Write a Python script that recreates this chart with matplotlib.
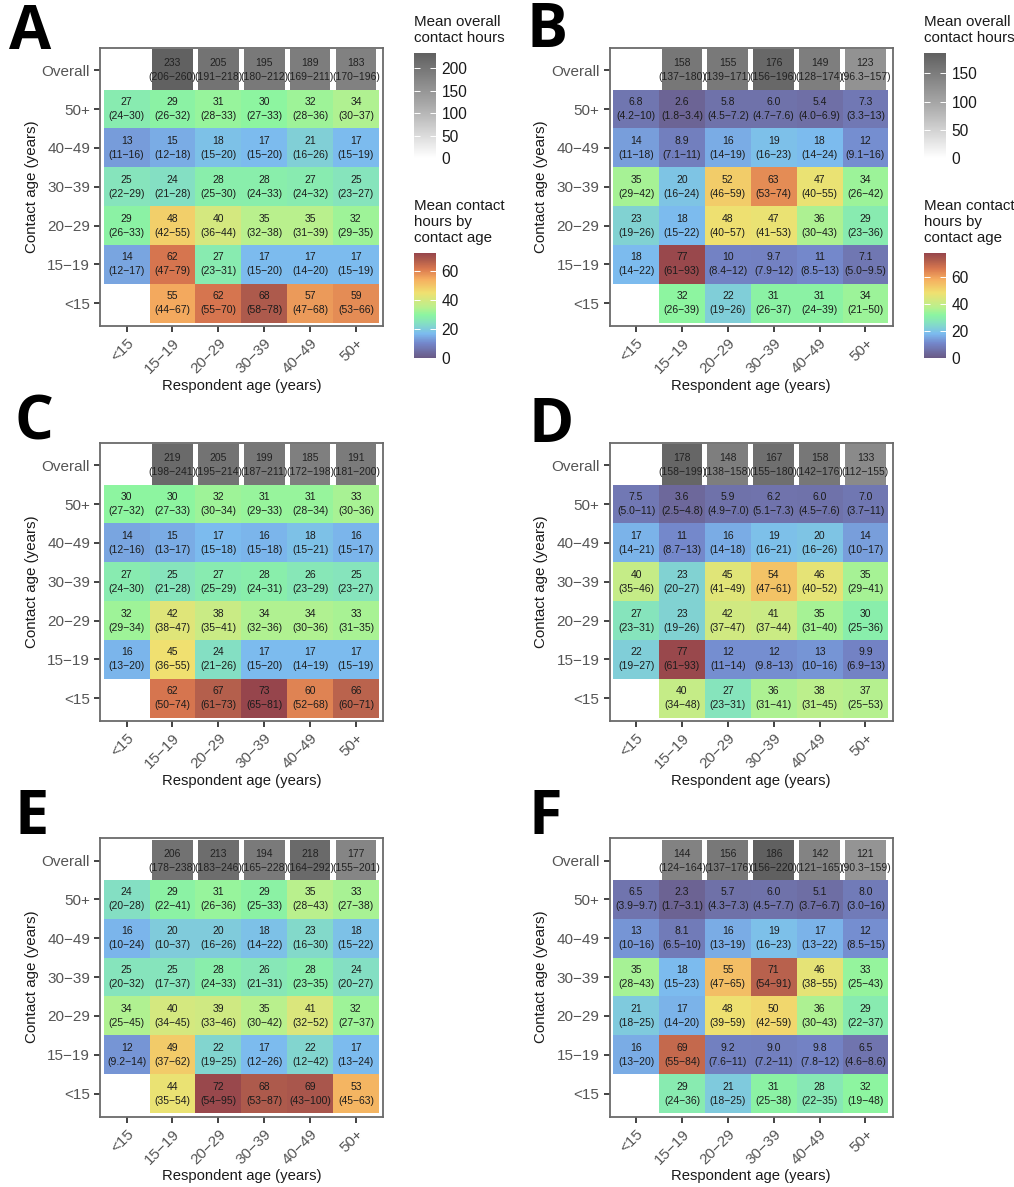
import matplotlib
matplotlib.use("Agg")
import matplotlib.pyplot as plt
import numpy as np
from matplotlib.colors import LinearSegmentedColormap, Normalize
from matplotlib.cm import ScalarMappable

plt.rcParams['font.family'] = ['Liberation Sans', 'DejaVu Sans']

W, H = 1014, 1187
age_groups = ['<15', '15−19', '20−29', '30−39', '40−49', '50+']
row_labels = ['<15', '15−19', '20−29', '30−39', '40−49', '50+', 'Overall']

# rows are listed from <15 (bottom) up to 50+
A_overall = [233, 205, 195, 189, 183]
A_overall_ci = ['206−260', '191−218', '180−212', '169−211', '170−196']
A_means = [[None, 55, 62, 68, 57, 59],
           [14, 62, 27, 17, 17, 17],
           [29, 48, 40, 35, 35, 32],
           [25, 24, 28, 28, 27, 25],
           [13, 15, 18, 17, 21, 17],
           [27, 29, 31, 30, 32, 34]]
A_ci = [[None, '44−67', '55−70', '58−78', '47−68', '53−66'],
        ['12−17', '47−79', '23−31', '15−20', '14−20', '15−19'],
        ['26−33', '42−55', '36−44', '32−38', '31−39', '29−35'],
        ['22−29', '21−28', '25−30', '24−33', '24−32', '23−27'],
        ['11−16', '12−18', '15−20', '15−20', '16−26', '15−19'],
        ['24−30', '26−32', '28−33', '27−33', '28−36', '30−37']]

B_overall = [158, 155, 176, 149, 123]
B_overall_ci = ['137−180', '139−171', '156−196', '128−174', '96.3−157']
B_means = [[None, 32, 22, 31, 31, 34],
           [18, 77, 10, 9.7, 11, 7.1],
           [23, 18, 48, 47, 36, 29],
           [35, 20, 52, 63, 47, 34],
           [14, 8.9, 16, 19, 18, 12],
           [6.8, 2.6, 5.8, 6.0, 5.4, 7.3]]
B_ci = [[None, '26−39', '19−26', '26−37', '24−39', '21−50'],
        ['14−22', '61−93', '8.4−12', '7.9−12', '8.5−13', '5.0−9.5'],
        ['19−26', '15−22', '40−57', '41−53', '30−43', '23−36'],
        ['29−42', '16−24', '46−59', '53−74', '40−55', '26−42'],
        ['11−18', '7.1−11', '14−19', '16−23', '14−24', '9.1−16'],
        ['4.2−10', '1.8−3.4', '4.5−7.2', '4.7−7.6', '4.0−6.9', '3.3−13']]

C_overall = [219, 205, 199, 185, 191]
C_overall_ci = ['198−241', '195−214', '187−211', '172−198', '181−200']
C_means = [[None, 62, 67, 73, 60, 66],
           [16, 45, 24, 17, 17, 17],
           [32, 42, 38, 34, 34, 33],
           [27, 25, 27, 28, 26, 25],
           [14, 15, 17, 16, 18, 16],
           [30, 30, 32, 31, 31, 33]]
C_ci = [[None, '50−74', '61−73', '65−81', '52−68', '60−71'],
        ['13−20', '36−55', '21−26', '15−20', '14−19', '15−19'],
        ['29−34', '38−47', '35−41', '32−36', '30−36', '31−35'],
        ['24−30', '21−28', '25−29', '24−31', '23−29', '23−27'],
        ['12−16', '13−17', '15−18', '15−18', '15−21', '15−17'],
        ['27−32', '27−33', '30−34', '29−33', '28−34', '30−36']]

D_overall = [178, 148, 167, 158, 133]
D_overall_ci = ['158−199', '138−158', '155−180', '142−176', '112−155']
D_means = [[None, 40, 27, 36, 38, 37],
           [22, 77, 12, 12, 13, 9.9],
           [27, 23, 42, 41, 35, 30],
           [40, 23, 45, 54, 46, 35],
           [17, 11, 16, 19, 20, 14],
           [7.5, 3.6, 5.9, 6.2, 6.0, 7.0]]
D_ci = [[None, '34−48', '23−31', '31−41', '31−45', '25−53'],
        ['19−27', '61−93', '11−14', '9.8−13', '10−16', '6.9−13'],
        ['23−31', '19−26', '37−47', '37−44', '31−40', '25−36'],
        ['35−46', '20−27', '41−49', '47−61', '40−52', '29−41'],
        ['14−21', '8.7−13', '14−18', '16−21', '16−26', '10−17'],
        ['5.0−11', '2.5−4.8', '4.9−7.0', '5.1−7.3', '4.5−7.6', '3.7−11']]

E_overall = [206, 213, 194, 218, 177]
E_overall_ci = ['178−238', '183−246', '165−228', '164−292', '155−201']
E_means = [[None, 44, 72, 68, 69, 53],
           [12, 49, 22, 17, 22, 17],
           [34, 40, 39, 35, 41, 32],
           [25, 25, 28, 26, 28, 24],
           [16, 20, 20, 18, 23, 18],
           [24, 29, 31, 29, 35, 33]]
E_ci = [[None, '35−54', '54−95', '53−87', '43−100', '45−63'],
        ['9.2−14', '37−62', '19−25', '12−26', '12−42', '13−24'],
        ['25−45', '34−45', '33−46', '30−42', '32−52', '27−37'],
        ['20−32', '17−37', '24−33', '21−31', '23−35', '20−27'],
        ['10−24', '10−37', '16−26', '14−22', '16−30', '15−22'],
        ['20−28', '22−41', '26−36', '25−33', '28−43', '27−38']]

F_overall = [144, 156, 186, 142, 121]
F_overall_ci = ['124−164', '137−176', '156−220', '121−165', '90.3−159']
F_means = [[None, 29, 21, 31, 28, 32],
           [16, 69, 9.2, 9.0, 9.8, 6.5],
           [21, 17, 48, 50, 36, 29],
           [35, 18, 55, 71, 46, 33],
           [13, 8.1, 16, 19, 17, 12],
           [6.5, 2.3, 5.7, 6.0, 5.1, 8.0]]
F_ci = [[None, '24−36', '18−25', '25−38', '22−35', '19−48'],
        ['13−20', '55−84', '7.6−11', '7.2−11', '7.8−12', '4.6−8.6'],
        ['18−25', '14−20', '39−59', '42−59', '30−43', '22−37'],
        ['28−43', '15−23', '47−65', '54−91', '38−55', '25−43'],
        ['10−16', '6.5−10', '13−19', '16−23', '13−22', '8.5−15'],
        ['3.9−9.7', '1.7−3.1', '4.3−7.3', '4.5−7.7', '3.7−6.7', '3.0−16']]

rainbow = LinearSegmentedColormap.from_list('soft_rainbow', [
    (0.00, '#6a5a85'), (0.14, '#7487cb'), (0.23, '#7cbbef'), (0.34, '#85e3be'),
    (0.41, '#8cf5a0'), (0.48, '#b8f08e'), (0.62, '#f0e070'), (0.75, '#f5ad5f'),
    (0.85, '#d9774f'), (0.93, '#b05c4c'), (1.00, '#96454c')])
greys = LinearSegmentedColormap.from_list('soft_grey', [
    (0.0, '#ffffff'), (0.5, '#aaaaaa'), (1.0, '#606060')])

fig = plt.figure(figsize=(W / 100, H / 100), dpi=100)
fig.patch.set_facecolor('white')


def px_axes(x0, y0, x1, y1):
    return fig.add_axes([x0 / W, 1 - y1 / H, (x1 - x0) / W, (y1 - y0) / H])


def fmt(v):
    return f'{v:.1f}' if v < 10 else f'{v:.0f}'


def panel(x0, y0, overall, overall_ci, means, ci, gmax, cmax):
    ax = px_axes(x0, y0, x0 + 283, y0 + 278.5)
    gnorm = Normalize(0, gmax)
    cnorm = Normalize(0, cmax)
    xs = np.arange(6)
    ax.bar(xs[1:], [1.04] * 5, bottom=5.5, width=0.89, color=greys(gnorm(np.array(overall))),
           linewidth=0, zorder=1)
    M = np.array([[np.nan if v is None else v for v in r] for r in means], float)
    ax.pcolormesh(np.arange(7) - 0.5, np.arange(7) - 0.5, np.ma.masked_invalid(M),
                  cmap=rainbow, norm=cnorm, linewidth=0, zorder=2, edgecolors='none',
                  antialiased=False)
    tx = dict(ha='center', va='center', fontsize=7.5, linespacing=1.5, zorder=3)
    for i, (v, c) in enumerate(zip(overall, overall_ci)):
        ax.text(i + 1, 6, f'{v}\n({c})', color='#222222', **tx)
    for r in range(6):
        for k in range(6):
            if means[r][k] is not None:
                ax.text(k, r, f'{fmt(means[r][k])}\n({ci[r][k]})', color='#1c1c1c', **tx)
    ax.set_xlim(-0.58, 5.59)
    ax.set_ylim(-0.59, 6.58)
    ax.set_xticks(xs, age_groups)
    ax.set_yticks(np.arange(7), row_labels)
    ax.tick_params(axis='both', length=4.2, width=1.3, color='#333333',
                   labelcolor='#555555', labelsize=11)
    ax.tick_params(axis='x', pad=3)
    ax.tick_params(axis='y', pad=3)
    for t in ax.get_xticklabels():
        t.set_rotation(45)
        t.set_ha('right')
        t.set_va('top')
        t.set_rotation_mode('anchor')
    for s in ax.spines.values():
        s.set_color('#6a6a6a')
        s.set_linewidth(1.3)
    fig.text((x0 + 141.5) / W, 1 - (y0 + 338) / H, 'Respondent age (years)', ha='center',
             va='center', fontsize=10.7, color='#1a1a1a')
    fig.text((x0 - 70 + 2) / W, 1 - (y0 + 139) / H, 'Contact age (years)', ha='center',
             va='center', rotation=90, fontsize=10.9, color='#1a1a1a')


def legend(x0, title, y_title, y_top, y_bot, cmap, vmax, ticks):
    fig.text(x0 / W, 1 - y_title / H, title, ha='left', va='top', fontsize=10.9,
             color='#1a1a1a', linespacing=1.17)
    cax = px_axes(x0, y_top, x0 + 21.5, y_bot)
    cb = fig.colorbar(ScalarMappable(Normalize(0, vmax), cmap), cax=cax)
    cb.outline.set_visible(False)
    cb.set_ticks(ticks)
    cax.tick_params(axis='y', which='major', direction='in', length=4.3, width=0.7,
                    color='white', left=True, right=True, labelsize=11.2,
                    labelcolor='#1a1a1a', pad=4.5)


GA, CA = 235, 72.7
GB, CB = 186.6, 77.8
panel(100, 47.7, A_overall, A_overall_ci, A_means, A_ci, GA, CA)
panel(609.5, 47.7, B_overall, B_overall_ci, B_means, B_ci, GB, CB)
panel(100, 442.7, C_overall, C_overall_ci, C_means, C_ci, GA, CA)
panel(609.5, 442.7, D_overall, D_overall_ci, D_means, D_ci, GB, CB)
panel(100, 838, E_overall, E_overall_ci, E_means, E_ci, GA, CA)
panel(609.5, 838, F_overall, F_overall_ci, F_means, F_ci, GB, CB)

legend(414, 'Mean overall\ncontact hours', 15, 52.7, 158, greys, GA, [0, 50, 100, 150, 200])
legend(414, 'Mean contact\nhours by\ncontact age', 199.5, 252.7, 358, rainbow, CA, [0, 20, 40, 60])
legend(924, 'Mean overall\ncontact hours', 15, 52.7, 158, greys, GB, [0, 50, 100, 150])
legend(924, 'Mean contact\nhours by\ncontact age', 199.5, 252.7, 358, rainbow, CB, [0, 20, 40, 60])

letters = [('A', 9, 49), ('B', 527, 47), ('C', 15, 440), ('D', 529, 442), ('E', 14, 834), ('F', 528, 834)]
for s, x, y in letters:
    fig.text(x / W, 1 - y / H, s, fontsize=44, fontweight='bold', family='Open Sans',
             color='black', ha='left', va='baseline')

fig.savefig('out.png', dpi=100)
